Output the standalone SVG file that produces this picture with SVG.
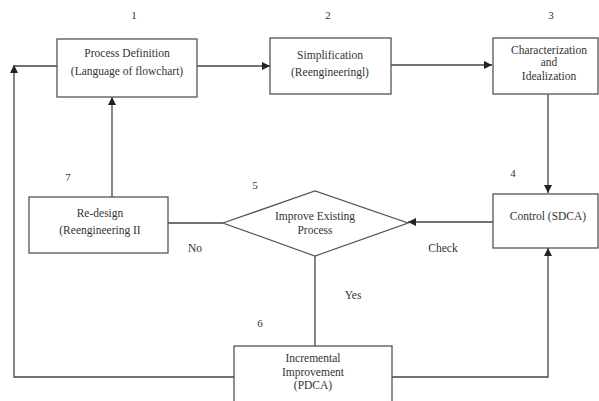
<svg xmlns="http://www.w3.org/2000/svg" width="599" height="401" viewBox="0 0 599 401">
<defs>
<marker id="arr" viewBox="0 0 10 10" refX="10" refY="5" markerWidth="8" markerHeight="8" markerUnits="userSpaceOnUse" orient="auto">
<path d="M0,0 L10,5 L0,10 z" fill="#222"/>
</marker>
<style>
.box{fill:#fff;stroke:#555;stroke-width:1.3}
.ln{fill:none;stroke:#444;stroke-width:1.3}
text{font-family:"Liberation Serif","Times New Roman",serif;font-size:11.5px;fill:#333;text-anchor:middle}
.num{font-size:11px}
</style>
</defs>
<rect width="599" height="401" fill="#fff"/>
<g id="connectors">
<path class="ln" d="M197,66 H270" marker-end="url(#arr)"/>
<path class="ln" d="M391,65 H492" marker-end="url(#arr)"/>
<path class="ln" d="M548,94 V193" marker-end="url(#arr)"/>
<path class="ln" d="M493,222 H408" marker-end="url(#arr)"/>
<path class="ln" d="M223,223 H168"/>
<path class="ln" d="M112,197 V97" marker-end="url(#arr)"/>
<path class="ln" d="M315,256 V346"/>
<path class="ln" d="M392,377 H548 V248" marker-end="url(#arr)"/>
<path class="ln" d="M234,377 H14 V65" marker-end="url(#arr)"/>
<path class="ln" d="M14,66 H57"/>
</g>
<g id="n1">
<rect class="box" x="57" y="39" width="140" height="58"/>
<text x="127" y="57">Process Definition</text>
<text x="127" y="75">(Language of flowchart)</text>
<text class="num" x="134" y="19">1</text>
</g>
<g id="n2">
<rect class="box" x="270" y="38" width="121" height="56"/>
<text x="330" y="59">Simplification</text>
<text x="330" y="76">(Reengineeringl)</text>
<text class="num" x="328" y="19">2</text>
</g>
<g id="n3">
<rect class="box" x="493" y="38" width="105" height="56"/>
<text x="549" y="54">Characterization</text>
<text x="549" y="66">and</text>
<text x="549" y="80">Idealization</text>
<text class="num" x="551" y="19">3</text>
</g>
<g id="n4">
<rect class="box" x="493" y="194" width="105" height="54"/>
<text x="548" y="220">Control (SDCA)</text>
<text class="num" x="513" y="177">4</text>
</g>
<g id="n5">
<polygon class="box" points="223,223 315,191 408,223 315,256"/>
<text x="315" y="220">Improve Existing</text>
<text x="315" y="234">Process</text>
<text class="num" x="255" y="189">5</text>
</g>
<g id="n6">
<rect class="box" x="234" y="346" width="158" height="60"/>
<text x="313" y="362">Incremental</text>
<text x="313" y="376">Improvement</text>
<text x="313" y="389">(PDCA)</text>
<text class="num" x="260" y="327">6</text>
</g>
<g id="n7">
<rect class="box" x="29" y="197" width="139" height="56"/>
<text x="100" y="217">Re-design</text>
<text x="100" y="234">(Reengineering II</text>
<text class="num" x="68" y="181">7</text>
</g>
<g id="labels">
<text x="195" y="252">No</text>
<text x="443" y="252">Check</text>
<text x="353" y="299">Yes</text>
</g>
</svg>
